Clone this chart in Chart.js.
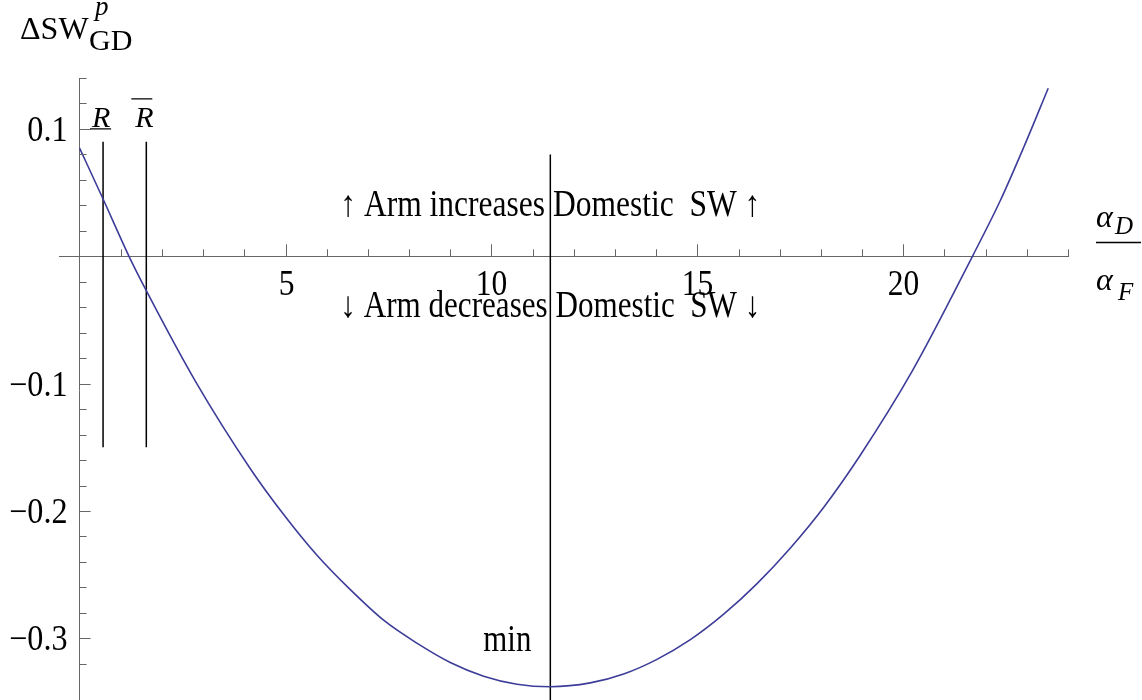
<!DOCTYPE html>
<html>
<head>
<meta charset="utf-8">
<script src="https://cdn.jsdelivr.net/npm/chart.js@4/dist/chart.umd.min.js"></script>
<style>
  html, body { margin: 0; padding: 0; background: #fff; overflow: hidden; }
  #wrap { width: 1142px; height: 700px; overflow: hidden; }
</style>
</head>
<body>
<div id="wrap"><canvas id="swChart" width="1142" height="702"></canvas></div>
<script>
// curve: alpha_D / alpha_F  vs  Delta SW
const ratio = [0, 0.57, 1.2, 1.62, 2.81, 4.15, 4.96, 5.77, 6.58, 7.39, 8.2, 9.0, 9.81, 10.62,
  11.43, 12.4, 13.21, 14.02, 14.83, 15.64, 16.45, 17.26, 18.07, 18.96, 20.22, 21.68, 22.36, 22.93, 23.52];
const deltaSW = [0.085, 0.045, 0, -0.027, -0.098, -0.167, -0.203, -0.235, -0.262, -0.286, -0.304, -0.319, -0.3297, -0.336,
  -0.338, -0.335, -0.328, -0.3165, -0.301, -0.281, -0.257, -0.229, -0.197, -0.156, -0.090, 0, 0.044, 0.086, 0.132];

// vertical markers
const rLow = 0.57;
const rHigh = 1.62;
const rSpan = [0.09, -0.15];
const minAt = 11.43;
const minSpan = [0.08, -0.35];

const xRange = [-0.5, 24];
const yRange = [-0.35, 0.14];

const serif = "'Liberation Serif', 'DejaVu Serif', serif";

function vline(xv, span) {
  return {
    data: [{ x: xv, y: span[0] }, { x: xv, y: span[1] }],
    borderColor: "#000",
    borderWidth: 1.5,
    pointRadius: 0,
    tension: 0,
  };
}

const isMult = (v, step) => Math.abs(v / step - Math.round(v / step)) < 1e-6;

// narrow text a bit, like the original typesetting
function squeezed(ctx, s, px, py, k) {
  const w = ctx.measureText(s).width;
  ctx.fillText(s, px, py, w * k);
}

const notes = {
  id: "notes",
  afterDatasetsDraw(chart) {
    const { ctx, scales: { x, y } } = chart;
    const x0 = x.getPixelForValue(0);
    const y0 = y.getPixelForValue(0);
    ctx.save();

    // tick marks (major + minor) and labels
    ctx.strokeStyle = "#666";
    ctx.lineWidth = 1;
    ctx.fillStyle = "#000";
    ctx.font = "35px " + serif;
    ctx.textBaseline = "alphabetic";
    x.ticks.forEach(t => {
      if (!isMult(t.value, 1)) return;
      const major = isMult(t.value, 5);
      const px = Math.round(x.getPixelForValue(t.value)) + 0.5;
      ctx.beginPath();
      ctx.moveTo(px, y0);
      ctx.lineTo(px, y0 - (major ? 12 : 7));
      ctx.stroke();
      if (major && t.value !== 0) {
        ctx.textAlign = "center";
        squeezed(ctx, String(t.value), px, y0 + 39, 0.9);
      }
    });
    y.ticks.forEach(t => {
      if (!isMult(t.value, 0.02)) return;
      const major = isMult(t.value, 0.1);
      const py = Math.round(y.getPixelForValue(t.value)) + 0.5;
      ctx.beginPath();
      ctx.moveTo(x0, py);
      ctx.lineTo(x0 + (major ? 11 : 7), py);
      ctx.stroke();
      if (major && Math.abs(t.value) > 1e-6) {
        ctx.textAlign = "right";
        squeezed(ctx, t.value.toFixed(1).replace("-", "\u2212"), x0 - 12, py + 11, 0.92);
      }
    });

    ctx.strokeStyle = "#000";

    // region notes centred on the minimum line
    const cx = x.getPixelForValue(minAt);
    ctx.font = "37px " + serif;
    ctx.textAlign = "center";
    ctx.fillText("\u2191 Arm increases Domestic  SW \u2191", cx, y.getPixelForValue(0.032), 420);
    ctx.fillText("\u2193 Arm decreases Domestic  SW \u2193", cx, y.getPixelForValue(-0.048), 420);
    ctx.textAlign = "right";
    ctx.fillText("min", cx - 19, y.getPixelForValue(-0.31), 48);

    // R (underlined) and R-bar (overlined)
    ctx.font = "italic 30px " + serif;
    ctx.textAlign = "center";
    const base = y.getPixelForValue(0.1) - 2;
    const rx = x.getPixelForValue(rLow) - 2;
    const rbx = x.getPixelForValue(rHigh) - 2;
    ctx.fillText("R", rx, base);
    ctx.fillText("R", rbx, base);
    ctx.lineWidth = 1.2;
    ctx.beginPath();
    ctx.moveTo(rx - 11, base + 2); ctx.lineTo(rx + 10, base + 2);
    ctx.moveTo(rbx - 13, base - 28); ctx.lineTo(rbx + 8, base - 28);
    ctx.stroke();

    // y axis title: ΔSW^p_GD
    ctx.textAlign = "left";
    ctx.font = "32px " + serif;
    ctx.fillText("\u0394SW", 20, 39);
    ctx.font = "italic 27px " + serif;
    ctx.fillText("p", 95, 15);
    ctx.font = "30px " + serif;
    ctx.fillText("GD", 89, 50, 48);

    // x axis title: α_D / α_F
    ctx.font = "italic 32px " + serif;
    ctx.fillText("\u03b1", 1096, 227);
    ctx.fillText("\u03b1", 1096, 290);
    ctx.font = "italic 25px " + serif;
    ctx.fillText("D", 1115, 234);
    ctx.fillText("F", 1118, 300);
    ctx.lineWidth = 1.5;
    ctx.beginPath();
    ctx.moveTo(1096, 242.5); ctx.lineTo(1141, 242.5);
    ctx.stroke();

    ctx.restore();
  },
};

const ctx = document.getElementById("swChart").getContext("2d");

const chart = new Chart(ctx, {
  type: "line",
  data: {
    datasets: [
      {
        data: ratio.map((r, i) => ({ x: r, y: deltaSW[i] })),
        borderColor: "#3d3d99",
        borderWidth: 1.6,
        pointRadius: 0,
        cubicInterpolationMode: "monotone",
      },
      vline(rLow, rSpan),
      vline(rHigh, rSpan),
      vline(minAt, minSpan),
    ],
  },
  options: {
    responsive: false,
    animation: false,
    layout: { padding: { left: 59, right: 74, top: 78, bottom: 0 } },
    plugins: { legend: { display: false }, tooltip: { enabled: false } },
    scales: {
      x: {
        type: "linear",
        position: { y: 0 },
        min: xRange[0],
        max: xRange[1],
        grid: { display: false, drawTicks: false, tickLength: 0 },
        border: { display: true, color: "#666", width: 1 },
        ticks: { display: false, stepSize: 1, autoSkip: false },
      },
      y: {
        type: "linear",
        position: { x: 0 },
        min: yRange[0],
        max: yRange[1],
        grid: { display: false, drawTicks: false, tickLength: 0 },
        border: { display: true, color: "#666", width: 1 },
        ticks: { display: false, stepSize: 0.02, autoSkip: false },
      },
    },
  },
  plugins: [notes],
});
</script>
</body>
</html>
